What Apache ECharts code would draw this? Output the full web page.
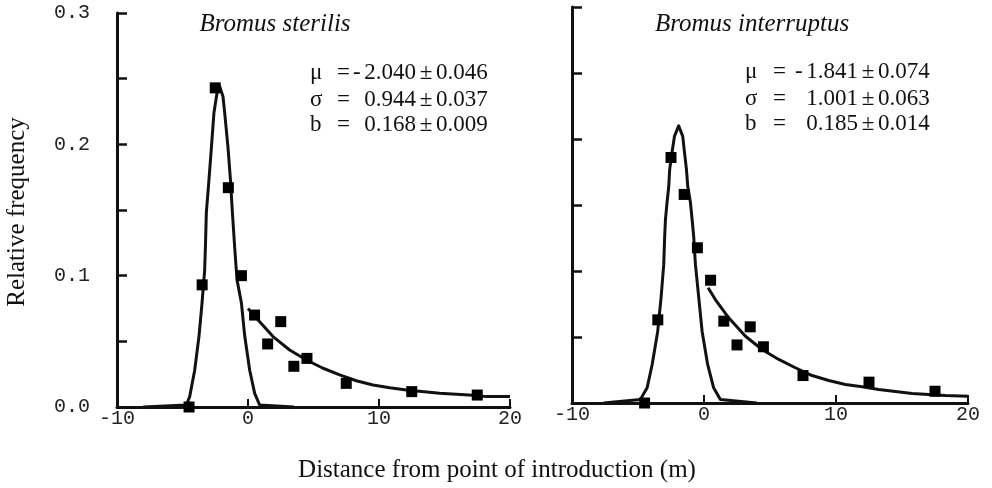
<!DOCTYPE html>
<html>
<head>
<meta charset="utf-8">
<script src="https://cdn.jsdelivr.net/npm/echarts@6/dist/echarts.min.js"></script>
<style>
html,body{margin:0;padding:0;background:#fff;}
#chart{width:992px;height:488px;}
</style>
</head>
<body>
<div id="chart"></div>
<script>
// ---- data ----
const xTickValues = [-10, 0, 10, 20];
const xTickLabels = ['-10', '0', '10', '20'];
const yTickValues = [0, 0.1, 0.2, 0.3];
const yTickLabels = ['0.0', '0.1', '0.2', '0.3'];

const panelTitles = ['Bromus sterilis', 'Bromus interruptus'];
const paramSymbols = ['\u03bc', '\u03c3', 'b'];
const sterilisSigns = ['-', '', ''];
const sterilisValues = ['2.040', '0.944', '0.168'];
const sterilisErrors = ['0.046', '0.037', '0.009'];
const interruptusSigns = ['-', '', ''];
const interruptusValues = ['1.841', '1.001', '0.185'];
const interruptusErrors = ['0.074', '0.063', '0.014'];

const sterilisObs = [[-4.5,0.0],[-3.5,0.093],[-2.5,0.243],[-1.5,0.167],[-0.5,0.100],[0.5,0.070],[1.5,0.048],[2.5,0.065],[3.5,0.031],[4.5,0.037],[7.5,0.018],[12.5,0.0117],[17.5,0.0091]];
const sterilisPeak = [[-8,0],[-4.7,0.0015],[-4.45,0.008],[-4.07,0.028],[-3.74,0.054],[-3.51,0.079],[-3.31,0.104],[-3.25,0.122],[-3.18,0.148],[-2.98,0.173],[-2.79,0.198],[-2.6,0.224],[-2.35,0.240],[-2.16,0.244],[-1.91,0.2365],[-1.78,0.224],[-1.53,0.198],[-1.34,0.173],[-1.19,0.148],[-1.02,0.122],[-0.84,0.097],[-0.5,0.079],[-0.25,0.054],[0.13,0.028],[0.51,0.0104],[0.89,0.0015],[3.5,0]];
const sterilisTail = [[0.0,0.075],[0.89,0.065],[1.91,0.0536],[3.18,0.0434],[4.46,0.0358],[5.73,0.0295],[7.0,0.0244],[8.27,0.020],[9.54,0.0168],[10.82,0.0147],[12.09,0.013],[14.63,0.0104],[17.18,0.0089],[18.2,0.0079],[20,0.0079]];

const interruptusObs = [[-4.5,0.0],[-3.5,0.063],[-2.5,0.186],[-1.5,0.158],[-0.5,0.1176],[0.5,0.093],[1.5,0.062],[2.5,0.044],[3.5,0.0577],[4.5,0.0426],[7.5,0.0208],[12.5,0.0158],[17.5,0.0089]];
const interruptusPeak = [[-7.6,0],[-4.82,0.0027],[-4.31,0.0115],[-3.93,0.029],[-3.51,0.054],[-3.25,0.080],[-3.05,0.105],[-2.98,0.126],[-2.92,0.139],[-2.80,0.152],[-2.67,0.164],[-2.60,0.177],[-2.42,0.190],[-2.24,0.202],[-1.92,0.210],[-1.61,0.202],[-1.48,0.190],[-1.33,0.177],[-1.23,0.164],[-1.03,0.152],[-0.90,0.139],[-0.78,0.126],[-0.65,0.105],[-0.40,0.080],[-0.14,0.054],[0.28,0.029],[0.73,0.0115],[1.24,0.0027],[4.0,0]];
const interruptusTail = [[0.31,0.0873],[0.86,0.0784],[1.87,0.0645],[3.14,0.0506],[4.40,0.0405],[5.66,0.033],[6.92,0.0267],[8.19,0.0208],[9.45,0.017],[10.71,0.014],[11.98,0.0123],[13.23,0.0102],[14.5,0.0087],[15.77,0.0072],[17.02,0.0064],[18.29,0.0057],[20,0.0052]];

// ---- chart ----
const INK = '#111';
const SERIF = '"Liberation Serif", "Times New Roman", serif';
const MONO = '"Liberation Mono", "DejaVu Sans Mono", monospace';

function xAxisOpt(gridIndex) {
  return {
    type: 'value', gridIndex, min: -10, max: 20, interval: 10,
    axisLine: { show: true, onZero: false, lineStyle: { color: INK, width: 3 } },
    axisTick: { show: true, inside: true, length: 8, lineStyle: { color: INK, width: 2 } },
    splitLine: { show: false },
    axisLabel: {
      margin: 2, color: '#222', fontSize: 20, fontFamily: MONO,
      formatter: v => { const i = xTickValues.indexOf(Math.round(v)); return i >= 0 ? xTickLabels[i] : ''; }
    }
  };
}
function yAxisOpt(gridIndex, showLabels) {
  return {
    type: 'value', gridIndex, min: 0, max: 0.3, interval: 0.05,
    axisLine: { show: true, onZero: false, lineStyle: { color: INK, width: 3 } },
    axisTick: { show: true, inside: true, length: 10, lineStyle: { color: INK, width: 2.5 } },
    splitLine: { show: false },
    axisLabel: {
      show: showLabels, margin: 27, color: '#222', fontSize: 20, fontFamily: MONO,
      formatter: v => {
        const k = Math.round(v * 20);
        if (k % 2 !== 0) return '';
        const i = yTickValues.findIndex(t => Math.abs(t - v) < 1e-6);
        return i >= 0 ? yTickLabels[i] : '';
      }
    }
  };
}
function lineSeries(data, idx) {
  return {
    type: 'line', xAxisIndex: idx, yAxisIndex: idx, data,
    showSymbol: false, symbol: 'none', smooth: false, silent: true,
    lineStyle: { color: INK, width: 3, opacity: 1, join: 'round' }, z: 2
  };
}
function scatterSeries(data, idx) {
  return {
    type: 'scatter', xAxisIndex: idx, yAxisIndex: idx, data,
    symbol: 'rect', symbolSize: 11, itemStyle: { color: '#000', opacity: 1 }, z: 3
  };
}
function txt(text, x, y, size, opts) {
  opts = opts || {};
  const align = opts.align || 'left';
  return {
    type: 'text', x, y, rotation: opts.rotation || 0,
    style: {
      text, fill: INK,
      font: (opts.italic ? 'italic ' : '') + size + 'px ' + SERIF,
      align, textAlign: align,
      verticalAlign: 'middle', textVerticalAlign: 'middle'
    }
  };
}

const graphics = [
  txt(panelTitles[0], 275, 24, 25, { italic: true, align: 'center' }),
  txt(panelTitles[1], 752, 24, 25, { italic: true, align: 'center' }),
  txt('Relative frequency', 17, 212, 25, { align: 'center', rotation: Math.PI / 2 }),
  txt('Distance from point of introduction (m)', 497, 470, 25, { align: 'center' })
];
// column offsets (px) relative to the symbol column
function paramBlock(x0, y0, cols, signs, values, errors) {
  paramSymbols.forEach((s, i) => {
    const y = y0 + [0, 27, 52][i];
    graphics.push(txt(s, x0, y, 23));
    graphics.push(txt('=', x0 + cols[0], y, 23));
    if (signs[i]) graphics.push(txt(signs[i], x0 + cols[1], y, 23));
    graphics.push(txt(values[i], x0 + cols[2], y, 23, { align: 'right' }));
    graphics.push(txt('\u00b1', x0 + cols[3], y, 23, { align: 'center' }));
    graphics.push(txt(errors[i], x0 + cols[4], y, 23));
  });
}
paramBlock(310, 73, [27, 43, 106, 116, 126], sterilisSigns, sterilisValues, sterilisErrors);
paramBlock(745, 72, [28, 50, 113, 123, 133], interruptusSigns, interruptusValues, interruptusErrors);

const chart = echarts.init(document.getElementById('chart'), null, { renderer: 'canvas' });
chart.setOption({
  animation: false,
  backgroundColor: '#fff',
  grid: [
    { left: 117, right: 482, top: 13, bottom: 81 },
    { left: 572, right: 24, top: 7, bottom: 85 }
  ],
  xAxis: [xAxisOpt(0), xAxisOpt(1)],
  yAxis: [yAxisOpt(0, true), yAxisOpt(1, false)],
  series: [
    lineSeries(sterilisPeak, 0), lineSeries(sterilisTail, 0), scatterSeries(sterilisObs, 0),
    lineSeries(interruptusPeak, 1), lineSeries(interruptusTail, 1), scatterSeries(interruptusObs, 1)
  ],
  graphic: graphics
});
</script>
</body>
</html>
